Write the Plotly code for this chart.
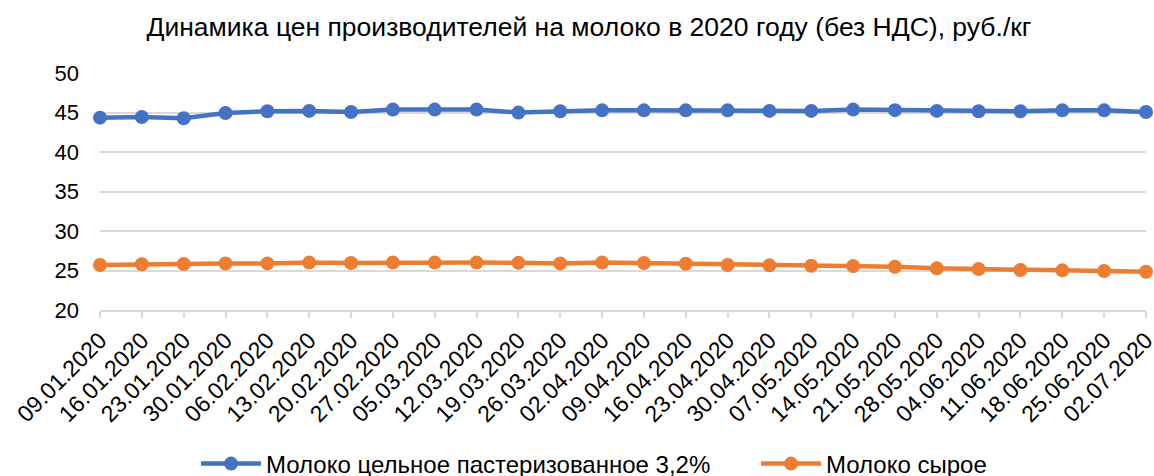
import plotly.graph_objects as go

dates = ["09.01.2020", "16.01.2020", "23.01.2020", "30.01.2020", "06.02.2020", "13.02.2020",
         "20.02.2020", "27.02.2020", "05.03.2020", "12.03.2020", "19.03.2020", "26.03.2020",
         "02.04.2020", "09.04.2020", "16.04.2020", "23.04.2020", "30.04.2020", "07.05.2020",
         "14.05.2020", "21.05.2020", "28.05.2020", "04.06.2020", "11.06.2020", "18.06.2020",
         "25.06.2020", "02.07.2020"]

pasteurized = [44.35, 44.43, 44.27, 44.94, 45.15, 45.2, 45.07, 45.37, 45.37, 45.37, 44.99, 45.15,
               45.27, 45.27, 45.27, 45.27, 45.2, 45.2, 45.37, 45.3, 45.2, 45.15, 45.15, 45.27,
               45.27, 45.07]
raw = [25.69, 25.8, 25.82, 25.88, 25.9, 26.0, 25.95, 26.0, 26.0, 26.0, 25.97, 25.9,
       26.0, 25.94, 25.86, 25.7, 25.65, 25.6, 25.56, 25.48, 25.27, 25.18, 25.06, 25.02,
       24.93, 24.85]

series_names = ["Молоко цельное пастеризованное 3,2%", "Молоко сырое"]
colors = ["#4472C4", "#ED7D31"]
title = "Динамика цен производителей на молоко в 2020 году (без НДС), руб./кг"

FONT = "Liberation Sans, Arial, sans-serif"

fig = go.Figure()
for name, vals, col, lg in zip(series_names, [pasteurized, raw], colors, ["legend", "legend2"]):
    fig.add_trace(go.Scatter(
        x=dates, y=vals, name=name, mode="lines+markers",
        line=dict(color=col, width=4.5),
        marker=dict(color=col, size=14),
        cliponaxis=False, legend=lg,
    ))

legend_common = dict(orientation="h", xref="container", yref="container",
                     y=12 / 476, yanchor="middle", xanchor="left",
                     font=dict(family=FONT, size=24, color="#000000"),
                     itemwidth=60, bgcolor="rgba(0,0,0,0)")

fig.update_layout(
    width=1154, height=476,
    margin=dict(l=100, r=8, t=73, b=166),
    paper_bgcolor="white", plot_bgcolor="white",
    font=dict(family=FONT, size=22, color="#000000"),
    title=dict(text=title, x=0.5104, xref="container", xanchor="center",
               y=1 - 27 / 476, yref="container", yanchor="middle",
               font=dict(family=FONT, size=26.5, color="#000000")),
    legend=dict(x=196 / 1154, **legend_common),
    legend2=dict(x=756 / 1154, **legend_common),
    showlegend=True,
)

fig.update_xaxes(
    type="category", range=[0, len(dates) - 1], automargin=False,
    tickangle=-45, showgrid=False,
    showline=True, linecolor="#D9D9D9", linewidth=1.5,
    ticks="outside", ticklen=6, tickcolor="#D9D9D9", tickwidth=1.5,
    tickfont=dict(family=FONT, size=23, color="#000000"),
)
fig.update_yaxes(
    range=[20, 50], tickvals=[20, 25, 30, 35, 40, 45, 50], automargin=False,
    showgrid=True, gridcolor="#D9D9D9", gridwidth=1.5,
    zeroline=False, showline=False,
    ticklabelstandoff=20,
    tickfont=dict(family=FONT, size=22, color="#000000"),
)

fig.write_html("out.html", config={"displayModeBar": False},
               post_script="document.body.style.margin='0';")
